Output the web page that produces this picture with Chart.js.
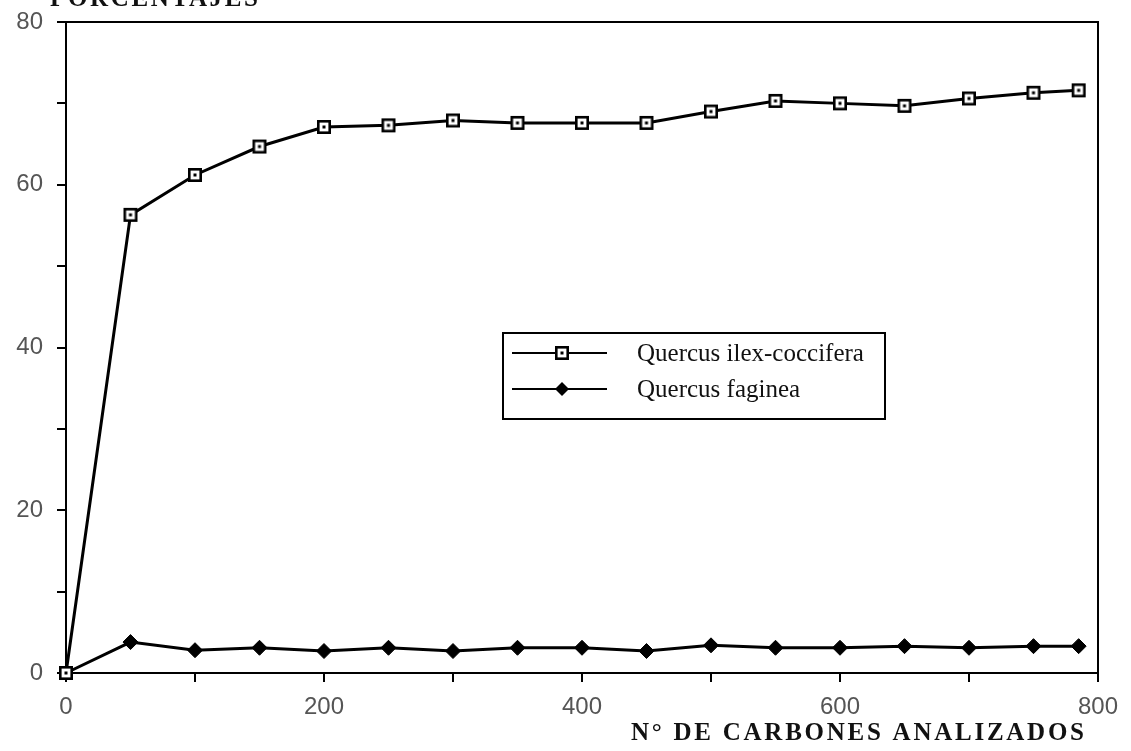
<!DOCTYPE html>
<html><head><meta charset="utf-8">
<script src="https://cdn.jsdelivr.net/npm/chart.js@4/dist/chart.umd.min.js"></script>
<style>html,body{margin:0;padding:0;background:#fff}#wrap{width:1131px;height:751px;position:relative}</style>
</head><body><div id="wrap"><canvas id="c" width="1131" height="751"></canvas></div>
<script>
// ---- data ----
const carbones = [0,50,100,150,200,250,300,350,400,450,500,550,600,650,700,750,785];
const ilexCoccifera = [0,56.3,61.2,64.7,67.1,67.3,67.9,67.6,67.6,67.6,69.0,70.3,70.0,69.7,70.6,71.3,71.6];
const faginea = [0,3.8,2.8,3.1,2.7,3.1,2.7,3.1,3.1,2.7,3.4,3.1,3.1,3.3,3.1,3.3,3.3];
const xTickLabels = [0,200,400,600,800];
const yTickLabels = [0,20,40,60,80];
const seriesNames = ['Quercus ilex-coccifera','Quercus faginea'];
const xTitle = 'N° DE CARBONES ANALIZADOS';
const yTitle = 'PORCENTAJES';

function squareDot(){
  const s=16, c=document.createElement('canvas'); c.width=s; c.height=s;
  const g=c.getContext('2d');
  g.fillStyle='#fff'; g.fillRect(1,1,14,14);
  g.strokeStyle='#000'; g.lineWidth=2.6; g.strokeRect(2.3,2.3,11.4,11.4);
  g.fillStyle='#000'; g.fillRect(6.5,6.5,3,3);
  return c;
}
const sqImg = squareDot();

function fitText(ctx, text, font, width){
  ctx.font = font; ctx.letterSpacing='0px';
  const w = ctx.measureText(text).width;
  return (width - w) / (text.length - 1);
}

const decor = {
  id:'decor',
  afterDraw(chart){
    const {ctx, chartArea:a} = chart;
    ctx.save();
    // frame top + right
    ctx.strokeStyle='#000'; ctx.lineWidth=2;
    ctx.beginPath();
    ctx.moveTo(a.left, a.top); ctx.lineTo(a.right, a.top); ctx.lineTo(a.right, a.bottom);
    ctx.stroke();
    // titles
    ctx.fillStyle='#111';
    let f='bold 25px "Liberation Serif", "Times New Roman", serif';
    let ls = fitText(ctx, yTitle, f, 208);
    ctx.font=f; ctx.letterSpacing=ls+'px'; ctx.textAlign='left'; ctx.textBaseline='alphabetic';
    ctx.fillText(yTitle, a.left-16, a.top-16);
    ls = fitText(ctx, xTitle, f, 453);
    ctx.font=f; ctx.letterSpacing=ls+'px'; ctx.textAlign='left';
    ctx.fillText(xTitle, a.right-467, a.bottom+67);
    ctx.letterSpacing='0px';
    // legend box
    const bx=a.left+437, by=a.top+311, bw=382, bh=86;
    ctx.fillStyle='#fff'; ctx.fillRect(bx,by,bw,bh);
    ctx.lineWidth=2; ctx.strokeStyle='#000'; ctx.strokeRect(bx,by,bw,bh);
    chart.data.datasets.forEach((ds,i)=>{
      const y = by+20+i*36;
      ctx.beginPath(); ctx.lineWidth=2; ctx.moveTo(bx+9,y); ctx.lineTo(bx+104,y); ctx.stroke();
      const mx=bx+59;
      if(i===0){ ctx.drawImage(sqImg, mx-8, y-8); }
      else { ctx.fillStyle='#000'; ctx.beginPath(); ctx.moveTo(mx,y-7); ctx.lineTo(mx+7,y); ctx.lineTo(mx,y+7); ctx.lineTo(mx-7,y); ctx.closePath(); ctx.fill(); }
      ctx.fillStyle='#111'; ctx.font='25px "Liberation Serif", "Times New Roman", serif';
      ctx.textBaseline='middle'; ctx.textAlign='left';
      ctx.fillText(ds.label, bx+134, y+1);
    });
    ctx.restore();
  }
};

const tickFont = {family:'"Liberation Sans", Arial, sans-serif', size:24};
new Chart(document.getElementById('c'), {
  type:'line',
  data:{
    datasets:[
      {label:seriesNames[0], data:carbones.map((x,i)=>({x, y:ilexCoccifera[i]})), clip:false,
       borderColor:'#000', borderWidth:3, pointStyle:sqImg, pointRadius:8, tension:0},
      {label:seriesNames[1], data:carbones.map((x,i)=>({x, y:faginea[i]})), clip:false,
       borderColor:'#000', backgroundColor:'#000', borderWidth:3, pointStyle:'rectRot', pointRadius:7.5,
       pointBackgroundColor:'#000', pointBorderColor:'#000', pointBorderWidth:1, tension:0}
    ]
  },
  options:{
    responsive:false, animation:false, devicePixelRatio:1,
    layout:{padding:{top:22,right:33,left:0,bottom:0}},
    plugins:{legend:{display:false}, tooltip:{enabled:false}},
    scales:{
      x:{type:'linear', min:0, max:800,
        ticks:{stepSize:100, color:'#555', font:tickFont, padding:11, maxRotation:0,
          callback:v=> xTickLabels.includes(v) ? String(v) : ''},
        grid:{drawOnChartArea:false, drawTicks:true, tickLength:9, color:'#000', lineWidth:2},
        border:{display:true, color:'#000', width:2},
        afterFit:s=>{s.height=78; s.paddingLeft=0; s.paddingRight=0;}
      },
      y:{type:'linear', min:0, max:80,
        ticks:{stepSize:10, color:'#555', font:tickFont, padding:14,
          callback:v=> yTickLabels.includes(v) ? String(v) : ''},
        grid:{drawOnChartArea:false, drawTicks:true, tickLength:9, color:'#000', lineWidth:2},
        border:{display:true, color:'#000', width:2},
        afterFit:s=>{s.width=66; s.paddingTop=0; s.paddingBottom=0;}
      }
    }
  },
  plugins:[decor]
});
</script></body></html>
